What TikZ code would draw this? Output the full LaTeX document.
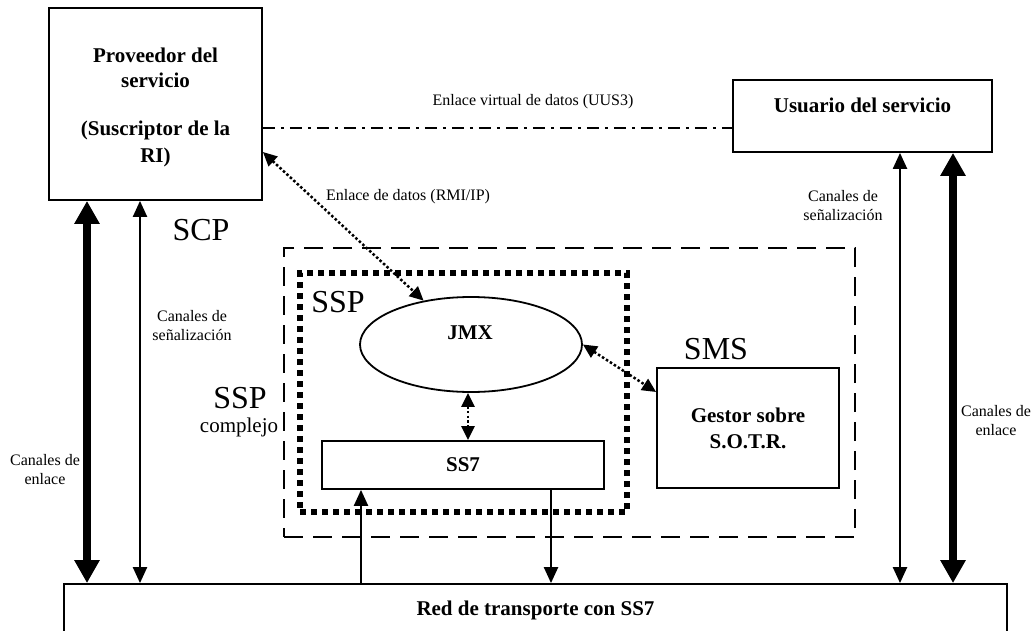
\documentclass[tikz,border=0pt]{standalone}
\usepackage{fontspec}
\setmainfont{Liberation Serif}
\usetikzlibrary{arrows.meta,shapes.geometric}
\begin{document}
\begin{tikzpicture}[x=1pt,y=-1pt,
  box/.style={draw,line width=1.8pt,inner sep=0pt},
  boldtxt/.style={font=\fontsize{21}{25}\selectfont\bfseries,align=center},
  smalltxt/.style={font=\fontsize{16}{19}\selectfont,align=center},
  bigtxt/.style={font=\fontsize{32}{36}\selectfont},
  thinarr/.style={line width=2.2pt,{Triangle[width=14pt,length=16pt]}-{Triangle[width=14pt,length=16pt]}},
  thickarr/.style={line width=8pt,{Triangle[width=24pt,length=23pt]}-{Triangle[width=24pt,length=23pt]}},
  uparr/.style={line width=2.2pt,-{Triangle[width=14pt,length=16pt]}},
  dotarr/.style={line width=2.5pt,dash pattern=on 2.5pt off 2.2pt,{Triangle[width=13pt,length=14pt]}-{Triangle[width=13pt,length=14pt]}},
  dashdot/.style={line width=2.2pt,dash pattern=on 12pt off 6pt on 3pt off 6pt},
  dashbox/.style={draw,line width=2.8pt,dash pattern=on 19pt off 10pt,inner sep=0pt},
  dotbox/.style={draw,line width=6pt,dash pattern=on 6pt off 5pt,inner sep=0pt}
]
\useasboundingbox (0,0) rectangle (1033,631);
\clip (0,0) rectangle (1033,631);

% boxes
\node[box,minimum width=213pt,minimum height=192pt] (prov) at (155.5,104) {};
\node[boldtxt] (provtxt) at (155.5,107) {Proveedor del\\servicio\\[23pt](Suscriptor de la\\[2pt]RI)};
\node[box,minimum width=259pt,minimum height=72pt] (usr) at (862.5,116) {};
\node[boldtxt] (usrtxt) at (862.5,105) {Usuario del servicio};
\node[box,minimum width=943pt,minimum height=80pt] (net) at (535.5,624) {};
\node[boldtxt] (nettxt) at (535.5,610) {Red de transporte con SS7};

\node[dashbox,minimum width=571pt,minimum height=289pt] (smsarea) at (569.5,392.5) {};
\node[dotbox,minimum width=327pt,minimum height=239pt] (ssparea) at (463.5,392.5) {};

\node[draw,ellipse,line width=1.8pt,minimum width=222pt,minimum height=95pt,inner sep=0pt] (jmx) at (471,344.5) {};
\node[boldtxt] (jmxtxt) at (470,333) {JMX};
\node[box,minimum width=282pt,minimum height=48pt,boldtxt] (ss7) at (463,465) {SS7};
\node[box,minimum width=182pt,minimum height=120pt,boldtxt,font=\fontsize{21}{26}\selectfont\bfseries] (sms) at (748,428) {Gestor sobre\\S.O.T.R.};

% labels
\node[bigtxt] (scp) at (201,230) {SCP};
\node[bigtxt] (ssplbl) at (338,302) {SSP};
\node[bigtxt] (smslbl) at (716,349) {SMS};
\node[bigtxt] (sspc) at (240,398) {SSP};
\node[font=\fontsize{21}{25}\selectfont] (compl) at (239,427) {complejo};
\node[smalltxt] (uus) at (533,102) {Enlace virtual de datos (UUS3)};
\node[smalltxt] (rmi) at (408,197) {Enlace de datos (RMI/IP)};
\node[smalltxt] (senL) at (192,326) {Canales de\\señalización};
\node[smalltxt] (enlL) at (45,470) {Canales de\\enlace};
\node[smalltxt] (senR) at (843,206) {Canales de\\señalización};
\node[smalltxt] (enlR) at (996,421) {Canales de\\enlace};

% connectors
\coordinate (xL1) at (87,0);
\coordinate (xL2) at (140,0);
\coordinate (xR1) at (900,0);
\coordinate (xR2) at (953,0);
\coordinate (xU) at (361,0);
\coordinate (xD) at (551,0);
\coordinate (xJ) at (468,0);
\coordinate (yV) at (0,128);
\coordinate (yR) at (0,152);
\coordinate (yS) at (0,392);

\draw[dashdot] (prov.east |- yV) -- (usr.west |- yV);
\draw[thickarr] (prov.south -| xL1) -- (net.north -| xL1);
\draw[thinarr] (prov.south -| xL2) -- (net.north -| xL2);
\draw[thinarr] (usr.south -| xR1) -- (net.north -| xR1);
\draw[thickarr] (usr.south -| xR2) -- (net.north -| xR2);
\draw[uparr] (net.north -| xU) -- (ss7.south -| xU);
\draw[uparr] (ss7.south -| xD) -- (net.north -| xD);
\draw[dotarr] (prov.east |- yR) -- (jmx);
\draw[dotarr] (jmx.east) -- (sms.west |- yS);
\draw[dotarr] (jmx.south -| xJ) -- (ss7.north -| xJ);
\end{tikzpicture}
\end{document}
